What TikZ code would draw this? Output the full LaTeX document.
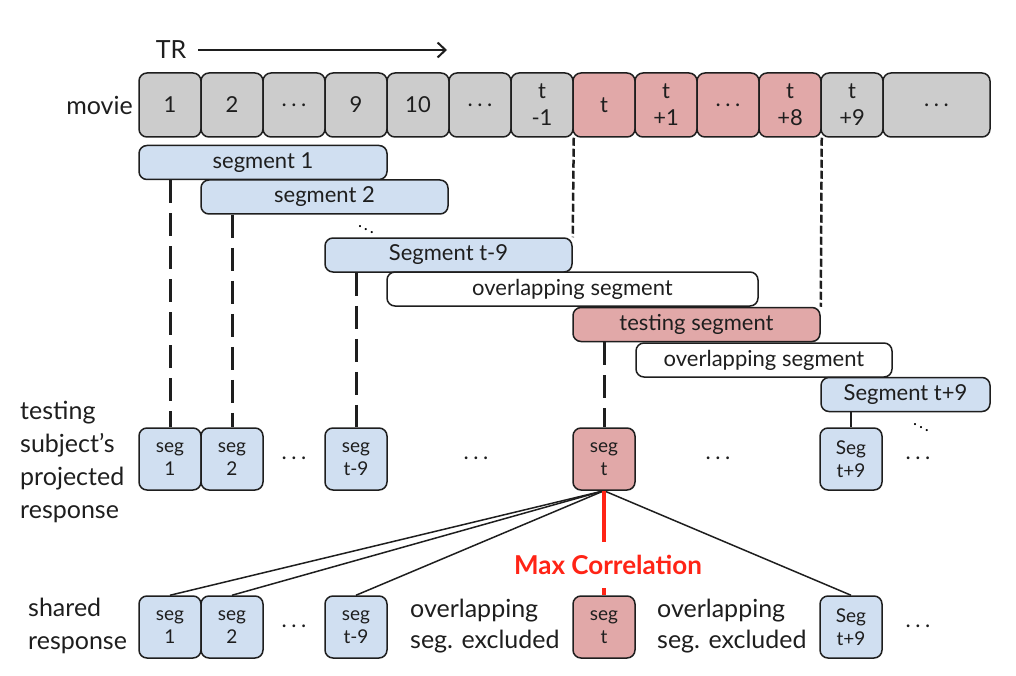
\documentclass[tikz,border=0pt]{standalone}
\usepackage{fontspec}
\setmainfont{Lato}
\usepackage{xcolor}
\usepackage{tikz}
\usetikzlibrary{positioning,arrows.meta}

\definecolor{boxgray}{RGB}{204,204,204}
\definecolor{boxblue}{RGB}{208,223,241}
\definecolor{boxred}{RGB}{225,168,168}
\definecolor{maxred}{RGB}{255,36,22}
\definecolor{ink}{RGB}{30,30,30}

\newcommand{\tdots}{.\kern4.5pt.\kern4.5pt.}

\tikzset{
  frame/.style={draw=ink, line width=1.5pt, rounded corners=8pt, inner sep=0pt, align=center, text=ink},
  movbox/.style={frame, fill=boxgray, minimum width=62pt, minimum height=64pt, font=\fontsize{22}{27}\selectfont},
  segbox/.style={frame, minimum height=34pt, font=\fontsize{22}{24}\selectfont},
  smallbox/.style={frame, minimum width=62pt, minimum height=62pt, font=\fontsize{19}{23}\selectfont},
  label/.style={align=left, inner sep=0pt, text=ink, font=\fontsize{25}{33}\selectfont},
  longdash/.style={ink, line width=3pt, dash pattern=on 23pt off 10pt},
  shortdash/.style={ink, line width=2.5pt, dash pattern=on 8pt off 3pt},
}

\begin{document}
\begin{tikzpicture}[x=1pt, y=-1pt]

    \useasboundingbox (0,0) rectangle (1016,676);

    % TR arrow
    \node[label, font=\fontsize{25}{28}\selectfont] (tr) at (171,50) {TR};
    \coordinate (trend) at (447,50);
    \draw[-{Straight Barb[length=8pt,width=15pt]}, ink, line width=2pt] (tr.east) ++(12,0) -- (trend);

    % Movie row
    \node[movbox] (m1) at (170,105) {1};
    \node[movbox] (m2) at (232,105) {2};
    \node[movbox] (m3) at (294,105) {\tdots};
    \node[movbox] (m4) at (356,105) {9};
    \node[movbox] (m5) at (418,105) {10};
    \node[movbox] (m6) at (480,105) {\tdots};
    \node[movbox] (m7) at (542,105) {t\\-1};
    \node[movbox, fill=boxred] (m8) at (604,105) {t};
    \node[movbox, fill=boxred] (m9) at (666,105) {t\\+1};
    \node[movbox, fill=boxred] (m10) at (728,105) {\tdots};
    \node[movbox, fill=boxred] (m11) at (790,105) {t\\+8};
    \node[movbox] (m12) at (852,105) {t\\+9};
    \node[movbox, minimum width=107pt] (m13) at (936.5,105) {\tdots};
    \node[label, anchor=east, font=\fontsize{25}{28}\selectfont] (movie) at (133,105) {movie};

    % Segments
    \node[segbox, fill=boxblue, minimum width=248pt] (seg1) at (263,162.5) {segment 1};
    \node[segbox, fill=boxblue, minimum width=247pt] (seg2) at (324.5,197) {segment 2};
    \node[segbox, fill=boxblue, minimum width=247pt] (segA) at (448.5,255) {Segment t-9};
    \node[segbox, fill=white, minimum width=371pt] (over1) at (572.5,289) {overlapping segment};
    \node[segbox, fill=boxred, minimum width=247pt] (testseg) at (696.5,324.5) {testing segment};
    \node[segbox, fill=white, minimum width=256pt] (over2) at (764,360) {overlapping segment};
    \node[segbox, fill=boxblue, minimum width=169pt] (segB) at (905.5,394.5) {Segment t+9};
    \node[inner sep=0pt, font=\fontsize{17}{17}\selectfont] (dd1) at (366,226) {$\ddots$};
    \node[inner sep=0pt, font=\fontsize{17}{17}\selectfont] (dd2) at (921,424) {$\ddots$};

    % Movie boundaries of the testing segment
    \draw[shortdash] (m7.south east) -- (segA.north east);
    \draw[shortdash] (m11.south east) -- (testseg.north east);

    % Projected response of the testing subject
    \node[smallbox, fill=boxblue] (proj1) at (170,459) {seg\\1};
    \node[smallbox, fill=boxblue] (proj2) at (232,459) {seg\\2};
    \node[smallbox, fill=boxblue] (projA) at (356,459) {seg\\t-9};
    \node[smallbox, fill=boxred] (projt) at (604,459) {seg\\t};
    \node[smallbox, fill=boxblue] (projB) at (851,459) {Seg\\t+9};
    \node[label, font=\fontsize{22}{22}\selectfont] (pd1) at (294,458) {\tdots};
    \node[label, font=\fontsize{22}{22}\selectfont] (pd2) at (476,458) {\tdots};
    \node[label, font=\fontsize{22}{22}\selectfont] (pd3) at (718,458) {\tdots};
    \node[label, font=\fontsize{22}{22}\selectfont] (pd4) at (918,458) {\tdots};
    \node[label, anchor=west] (projlabel) at (20,462) {testing\\subject’s\\projected\\response};

    % Segments to responses
    \draw[longdash] (seg1.south -| proj1.north) -- (proj1.north);
    \draw[longdash] (seg2.south -| proj2.north) -- (proj2.north);
    \draw[longdash] (segA.south -| projA.north) -- (projA.north);
    \draw[longdash] (testseg.south -| projt.north) -- (projt.north);
    \draw[ink, line width=2pt] (segB.south -| projB.north) -- (projB.north);

    % Shared response
    \node[smallbox, fill=boxblue] (shar1) at (170,627) {seg\\1};
    \node[smallbox, fill=boxblue] (shar2) at (232,627) {seg\\2};
    \node[smallbox, fill=boxblue] (sharA) at (356,627) {seg\\t-9};
    \node[smallbox, fill=boxred] (shart) at (604,627) {seg\\t};
    \node[smallbox, fill=boxblue] (sharB) at (851,627) {Seg\\t+9};
    \node[label, font=\fontsize{22}{22}\selectfont] (sd1) at (294,626) {\tdots};
    \node[label, font=\fontsize{22}{22}\selectfont] (sd2) at (918,626) {\tdots};
    \node[label, anchor=west, font=\fontsize{25}{31}\selectfont] (excl1) at (410,626) {overlapping\\seg. excluded};
    \node[label, anchor=west, font=\fontsize{25}{31}\selectfont] (excl2) at (657,626) {overlapping\\seg. excluded};
    \node[label, anchor=west] (sharlabel) at (28,626) {shared\\response};

    % Correlations
    \draw[ink, line width=1.5pt] (projt.south) -- (shar1.north);
    \draw[ink, line width=1.5pt] (projt.south) -- (shar2.north);
    \draw[ink, line width=1.5pt] (projt.south) -- (sharA.north);
    \draw[ink, line width=1.5pt] (projt.south) -- (sharB.north);
    \draw[maxred, line width=4pt] (projt.south) -- (shart.north);
    \node[fill=white, inner sep=13pt, text=maxred, font=\bfseries\fontsize{26}{28}\selectfont] (maxcorr) at (608,565) {Max Correlation};

\end{tikzpicture}
\end{document}
